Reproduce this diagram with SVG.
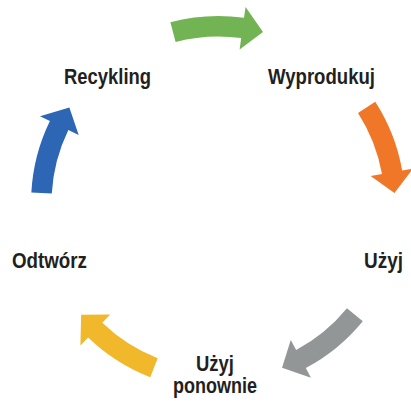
<svg xmlns="http://www.w3.org/2000/svg" xmlns:xlink="http://www.w3.org/1999/xlink" width="411" height="403" viewBox="0 0 411 403">
<style>
.lbl{font-family:"Liberation Sans",Arial,sans-serif;font-weight:bold;font-size:22px;fill:#231f20;text-anchor:middle}
</style>
<defs>
<path id="arr" d="M170.4,22.2 A187,187 0 0,1 244.0,17.8 L245.6,6.9 L263.0,32.1 L239.6,49.5 L241.2,38.1 A166.5,166.5 0 0,0 175.6,42.0 Z"/>
</defs>
<rect width="411" height="403" fill="#ffffff"/>
<g id="connectors">
<use xlink:href="#arr" href="#arr" fill="#72b454"/>
<use xlink:href="#arr" href="#arr" fill="#f07628" transform="rotate(72 218 203)"/>
<use xlink:href="#arr" href="#arr" fill="#939696" transform="rotate(144 218 203)"/>
<use xlink:href="#arr" href="#arr" fill="#f0b82a" transform="rotate(216 218 203)"/>
<use xlink:href="#arr" href="#arr" fill="#2c66b4" transform="rotate(288 218 203)"/>
</g>
<g id="node-wyprodukuj"><text class="lbl" x="321.5" y="84" textLength="107" lengthAdjust="spacingAndGlyphs">Wyprodukuj</text></g>
<g id="node-uzyj"><text class="lbl" x="383.5" y="268" textLength="39" lengthAdjust="spacingAndGlyphs">Użyj</text></g>
<g id="node-uzyj-ponownie"><text class="lbl" x="215" y="371" textLength="38" lengthAdjust="spacingAndGlyphs">Użyj</text><text class="lbl" x="215" y="392.5" textLength="84" lengthAdjust="spacingAndGlyphs">ponownie</text></g>
<g id="node-odtworz"><text class="lbl" x="49.5" y="268" textLength="75" lengthAdjust="spacingAndGlyphs">Odtwórz</text></g>
<g id="node-recykling"><text class="lbl" x="107.5" y="83.5" textLength="87" lengthAdjust="spacingAndGlyphs">Recykling</text></g>
</svg>
